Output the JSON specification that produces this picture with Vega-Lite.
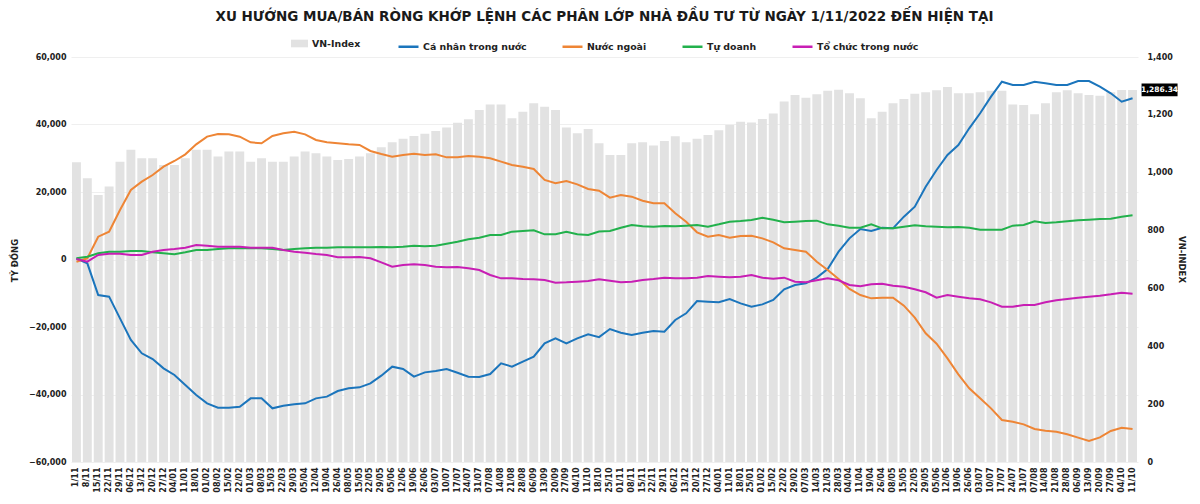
{
  "$schema": "https://vega.github.io/schema/vega-lite/v6.json",
  "width": 1067,
  "height": 405,
  "autosize": {"type": "none"},
  "padding": {"left": 71, "top": 57, "right": 62, "bottom": 42},
  "background": "white",
  "title": {
    "text": "XU HƯỚNG MUA/BÁN RÒNG KHỚP LỆNH CÁC PHÂN LỚP NHÀ ĐẦU TƯ TỪ NGÀY 1/11/2022 ĐẾN HIỆN TẠI",
    "font": "DejaVu Sans",
    "fontSize": 13.5,
    "fontWeight": "bold",
    "color": "#1a1a1a",
    "anchor": "middle",
    "frame": "group",
    "offset": 12
  },
  "data": {
    "values": [
      {"d": "2022-11-01", "vn": 1036, "cn": 300, "nn": -650, "td": 350, "tc": 150},
      {"d": "2022-11-08", "vn": 981, "cn": -1130, "nn": 350, "td": 840, "tc": -650},
      {"d": "2022-11-15", "vn": 923, "cn": -10520, "nn": 6760, "td": 1830, "tc": 1330},
      {"d": "2022-11-22", "vn": 952, "cn": -11010, "nn": 8240, "td": 2320, "tc": 1730},
      {"d": "2022-11-29", "vn": 1038, "cn": -17430, "nn": 14670, "td": 2320, "tc": 1730},
      {"d": "2022-12-06", "vn": 1079, "cn": -23850, "nn": 20590, "td": 2520, "tc": 1330},
      {"d": "2022-12-13", "vn": 1050, "cn": -27800, "nn": 23060, "td": 2520, "tc": 1330},
      {"d": "2022-12-20", "vn": 1050, "cn": -29480, "nn": 25040, "td": 2120, "tc": 2320},
      {"d": "2022-12-27", "vn": 1027, "cn": -32250, "nn": 27510, "td": 1830, "tc": 2810},
      {"d": "2023-01-04", "vn": 1027, "cn": -34220, "nn": 29190, "td": 1530, "tc": 3110},
      {"d": "2023-01-11", "vn": 1050, "cn": -37190, "nn": 31160, "td": 2120, "tc": 3510},
      {"d": "2023-01-18", "vn": 1079, "cn": -40150, "nn": 34120, "td": 2810, "tc": 4300},
      {"d": "2023-02-01", "vn": 1079, "cn": -42620, "nn": 36400, "td": 2810, "tc": 4100},
      {"d": "2023-02-08", "vn": 1056, "cn": -43900, "nn": 37190, "td": 3110, "tc": 3800},
      {"d": "2023-02-15", "vn": 1073, "cn": -43900, "nn": 37090, "td": 3310, "tc": 3800},
      {"d": "2023-02-22", "vn": 1073, "cn": -43610, "nn": 36400, "td": 3310, "tc": 3800},
      {"d": "2023-03-01", "vn": 1038, "cn": -41140, "nn": 34720, "td": 3310, "tc": 3510},
      {"d": "2023-03-08", "vn": 1050, "cn": -41140, "nn": 34420, "td": 3310, "tc": 3510},
      {"d": "2023-03-15", "vn": 1038, "cn": -44100, "nn": 36590, "td": 3110, "tc": 3510},
      {"d": "2023-03-22", "vn": 1038, "cn": -43320, "nn": 37380, "td": 2810, "tc": 2810},
      {"d": "2023-03-29", "vn": 1056, "cn": -42920, "nn": 37880, "td": 3110, "tc": 2320},
      {"d": "2023-04-05", "vn": 1073, "cn": -42620, "nn": 37090, "td": 3310, "tc": 2010},
      {"d": "2023-04-12", "vn": 1067, "cn": -41140, "nn": 35410, "td": 3510, "tc": 1630},
      {"d": "2023-04-19", "vn": 1056, "cn": -40640, "nn": 34720, "td": 3510, "tc": 1330},
      {"d": "2023-04-26", "vn": 1044, "cn": -38960, "nn": 34420, "td": 3600, "tc": 650},
      {"d": "2023-05-08", "vn": 1047, "cn": -38170, "nn": 34120, "td": 3600, "tc": 650},
      {"d": "2023-05-15", "vn": 1056, "cn": -37880, "nn": 33930, "td": 3600, "tc": 740},
      {"d": "2023-05-22", "vn": 1067, "cn": -36690, "nn": 32150, "td": 3600, "tc": 350},
      {"d": "2023-05-29", "vn": 1088, "cn": -34420, "nn": 31260, "td": 3700, "tc": -840},
      {"d": "2023-06-05", "vn": 1105, "cn": -31750, "nn": 30470, "td": 3600, "tc": -2130},
      {"d": "2023-06-12", "vn": 1117, "cn": -32440, "nn": 30960, "td": 3800, "tc": -1630},
      {"d": "2023-06-19", "vn": 1127, "cn": -34720, "nn": 31360, "td": 4100, "tc": -1430},
      {"d": "2023-06-26", "vn": 1135, "cn": -33440, "nn": 30960, "td": 3900, "tc": -1630},
      {"d": "2023-07-03", "vn": 1144, "cn": -33040, "nn": 31160, "td": 4100, "tc": -2130},
      {"d": "2023-07-10", "vn": 1156, "cn": -32440, "nn": 30270, "td": 4690, "tc": -2320},
      {"d": "2023-07-17", "vn": 1173, "cn": -33540, "nn": 30270, "td": 5280, "tc": -2220},
      {"d": "2023-07-24", "vn": 1185, "cn": -34720, "nn": 30670, "td": 5970, "tc": -2620},
      {"d": "2023-07-31", "vn": 1217, "cn": -34820, "nn": 30470, "td": 6470, "tc": -3110},
      {"d": "2023-08-07", "vn": 1236, "cn": -33930, "nn": 29980, "td": 7260, "tc": -4590},
      {"d": "2023-08-14", "vn": 1236, "cn": -30770, "nn": 28990, "td": 7260, "tc": -5580},
      {"d": "2023-08-21", "vn": 1188, "cn": -31750, "nn": 28000, "td": 8250, "tc": -5580},
      {"d": "2023-08-28", "vn": 1211, "cn": -30270, "nn": 27510, "td": 8440, "tc": -5780},
      {"d": "2023-09-06", "vn": 1240, "cn": -28790, "nn": 26820, "td": 8640, "tc": -5880},
      {"d": "2023-09-13", "vn": 1228, "cn": -24840, "nn": 23560, "td": 7460, "tc": -6070},
      {"d": "2023-09-20", "vn": 1217, "cn": -23360, "nn": 22570, "td": 7460, "tc": -6880},
      {"d": "2023-09-27", "vn": 1156, "cn": -24840, "nn": 23260, "td": 8250, "tc": -6770},
      {"d": "2023-10-04", "vn": 1136, "cn": -23360, "nn": 22270, "td": 7460, "tc": -6570},
      {"d": "2023-10-11", "vn": 1151, "cn": -22170, "nn": 20890, "td": 7260, "tc": -6370},
      {"d": "2023-10-18", "vn": 1102, "cn": -23000, "nn": 20400, "td": 8300, "tc": -5880},
      {"d": "2023-10-25", "vn": 1061, "cn": -20590, "nn": 18320, "td": 8440, "tc": -6270},
      {"d": "2023-11-01", "vn": 1061, "cn": -21680, "nn": 19110, "td": 9430, "tc": -6770},
      {"d": "2023-11-08", "vn": 1102, "cn": -22370, "nn": 18620, "td": 10220, "tc": -6570},
      {"d": "2023-11-15", "vn": 1105, "cn": -21680, "nn": 17430, "td": 9830, "tc": -6070},
      {"d": "2023-11-22", "vn": 1094, "cn": -21190, "nn": 16640, "td": 9730, "tc": -5780},
      {"d": "2023-11-29", "vn": 1110, "cn": -21380, "nn": 16640, "td": 9920, "tc": -5380},
      {"d": "2023-12-06", "vn": 1126, "cn": -17930, "nn": 13680, "td": 9830, "tc": -5580},
      {"d": "2023-12-13", "vn": 1105, "cn": -15950, "nn": 11210, "td": 10030, "tc": -5580},
      {"d": "2023-12-20", "vn": 1117, "cn": -12300, "nn": 8050, "td": 10220, "tc": -5380},
      {"d": "2023-12-27", "vn": 1130, "cn": -12490, "nn": 6760, "td": 9730, "tc": -4890},
      {"d": "2024-01-04", "vn": 1147, "cn": -12690, "nn": 7260, "td": 10420, "tc": -5090},
      {"d": "2024-01-11", "vn": 1165, "cn": -11700, "nn": 6470, "td": 11210, "tc": -5280},
      {"d": "2024-01-18", "vn": 1176, "cn": -12990, "nn": 6960, "td": 11410, "tc": -5090},
      {"d": "2024-01-25", "vn": 1174, "cn": -13980, "nn": 7060, "td": 11700, "tc": -4590},
      {"d": "2024-02-01", "vn": 1186, "cn": -13290, "nn": 6270, "td": 12390, "tc": -5380},
      {"d": "2024-02-15", "vn": 1205, "cn": -12000, "nn": 5090, "td": 11800, "tc": -5680},
      {"d": "2024-02-22", "vn": 1246, "cn": -8840, "nn": 3310, "td": 11010, "tc": -5380},
      {"d": "2024-02-29", "vn": 1269, "cn": -7560, "nn": 2810, "td": 11210, "tc": -6570},
      {"d": "2024-03-07", "vn": 1259, "cn": -7060, "nn": 2320, "td": 11410, "tc": -6770},
      {"d": "2024-03-14", "vn": 1271, "cn": -5380, "nn": -650, "td": 11510, "tc": -6170},
      {"d": "2024-03-21", "vn": 1283, "cn": -2810, "nn": -3110, "td": 10420, "tc": -5580},
      {"d": "2024-03-28", "vn": 1287, "cn": 2320, "nn": -5780, "td": 10030, "tc": -6170},
      {"d": "2024-04-04", "vn": 1275, "cn": 6270, "nn": -8740, "td": 9430, "tc": -7560},
      {"d": "2024-04-11", "vn": 1257, "cn": 9040, "nn": -10520, "td": 9430, "tc": -7950},
      {"d": "2024-04-19", "vn": 1188, "cn": 8440, "nn": -11510, "td": 10420, "tc": -7350},
      {"d": "2024-04-26", "vn": 1211, "cn": 9430, "nn": -11310, "td": 9240, "tc": -7160},
      {"d": "2024-05-08", "vn": 1240, "cn": 9240, "nn": -11310, "td": 9240, "tc": -7760},
      {"d": "2024-05-15", "vn": 1255, "cn": 12690, "nn": -13680, "td": 9730, "tc": -8050},
      {"d": "2024-05-22", "vn": 1273, "cn": 15650, "nn": -17240, "td": 10120, "tc": -8840},
      {"d": "2024-05-29", "vn": 1278, "cn": 21580, "nn": -21880, "td": 9830, "tc": -9720},
      {"d": "2024-06-05", "vn": 1285, "cn": 26520, "nn": -24940, "td": 9730, "tc": -11310},
      {"d": "2024-06-12", "vn": 1296, "cn": 30960, "nn": -29280, "td": 9530, "tc": -10520},
      {"d": "2024-06-19", "vn": 1275, "cn": 33930, "nn": -34020, "td": 9630, "tc": -11010},
      {"d": "2024-06-26", "vn": 1275, "cn": 38870, "nn": -38170, "td": 9430, "tc": -11510},
      {"d": "2024-07-03", "vn": 1278, "cn": 43320, "nn": -41140, "td": 8830, "tc": -11800},
      {"d": "2024-07-10", "vn": 1283, "cn": 48240, "nn": -44100, "td": 8830, "tc": -12690},
      {"d": "2024-07-17", "vn": 1283, "cn": 52690, "nn": -47560, "td": 8830, "tc": -13980},
      {"d": "2024-07-24", "vn": 1236, "cn": 51700, "nn": -48050, "td": 10030, "tc": -13980},
      {"d": "2024-07-31", "vn": 1234, "cn": 51700, "nn": -48840, "td": 10220, "tc": -13480},
      {"d": "2024-08-07", "vn": 1202, "cn": 52690, "nn": -50220, "td": 11310, "tc": -13480},
      {"d": "2024-08-14", "vn": 1240, "cn": 52210, "nn": -50720, "td": 10820, "tc": -12690},
      {"d": "2024-08-21", "vn": 1278, "cn": 51700, "nn": -51010, "td": 11010, "tc": -12100},
      {"d": "2024-08-28", "vn": 1285, "cn": 51700, "nn": -51800, "td": 11310, "tc": -11700},
      {"d": "2024-09-06", "vn": 1275, "cn": 52890, "nn": -52790, "td": 11610, "tc": -11310},
      {"d": "2024-09-13", "vn": 1269, "cn": 52890, "nn": -53780, "td": 11800, "tc": -11010},
      {"d": "2024-09-20", "vn": 1266, "cn": 51200, "nn": -52700, "td": 12000, "tc": -10720},
      {"d": "2024-09-27", "vn": 1278, "cn": 49250, "nn": -50810, "td": 12100, "tc": -10320},
      {"d": "2024-10-04", "vn": 1286, "cn": 46760, "nn": -49830, "td": 12690, "tc": -9830},
      {"d": "2024-10-11", "vn": 1286.34, "cn": 47760, "nn": -50220, "td": 13090, "tc": -10120}
    ]
  },
  "encoding": {
    "x": {
      "field": "d",
      "type": "nominal",
      "title": null,
      "scale": {"paddingInner": 0, "paddingOuter": 0},
      "axis": {
        "labelExpr": "(datum.value < '2022-11-10' ? slice(datum.value, 9) : slice(datum.value, 8)) + '/' + slice(datum.value, 5, 7)",
        "labelAngle": 270,
        "labelFont": "DejaVu Sans",
        "labelFontSize": 8,
        "labelFontWeight": "bold",
        "labelColor": "#222222",
        "labelPadding": 5,
        "ticks": false,
        "domain": false,
        "grid": false
      }
    }
  },
  "layer": [
    {
      "encoding": {
        "y": {
          "field": "vn",
          "type": "quantitative",
          "scale": {"domain": [0, 1400], "nice": false, "zero": true},
          "axis": {
            "orient": "right",
            "values": [0, 200, 400, 600, 800, 1000, 1200, 1400],
            "format": ",.0f",
            "labelFont": "DejaVu Sans",
            "labelFontSize": 8,
            "labelFontWeight": "bold",
            "labelColor": "#222222",
            "labelPadding": 9,
            "ticks": false,
            "domain": false,
            "grid": false,
            "title": "VN-INDEX",
            "titleFont": "DejaVu Sans",
            "titleFontSize": 8.5,
            "titleFontWeight": "bold",
            "titleColor": "#222222",
            "titleAngle": 90,
            "titleX": 43,
            "titleY": 202,
            "titleAlign": "center",
            "titleBaseline": "middle"
          }
        }
      },
      "layer": [
        {
          "mark": {"type": "bar", "width": {"band": 0.82}},
          "encoding": {
            "fill": {
              "datum": "VN-Index",
              "scale": {"range": ["#e2e2e2"]},
              "legend": {
                "orient": "none",
                "legendX": 220,
                "legendY": -22,
                "title": null,
                "padding": 0,
                "symbolType": "M-1,-0.45H1V0.45H-1Z",
                "symbolSize": 289,
                "symbolStrokeWidth": 0,
                "symbolFillColor": "#d6d6d6",
                "labelFont": "DejaVu Sans",
                "labelFontSize": 9.4,
                "labelFontWeight": "bold",
                "labelColor": "#222222",
                "labelOffset": 4
              }
            }
          }
        },
        {
          "transform": [{"filter": "datum.d == '2024-10-11'"}],
          "mark": {
            "type": "point",
            "shape": "M-1,-0.36H1V0.36H-1Z",
            "size": 1296,
            "filled": true,
            "color": "#000000",
            "opacity": 1,
            "xOffset": 27
          }
        },
        {
          "transform": [{"filter": "datum.d == '2024-10-11'"}],
          "mark": {
            "type": "text",
            "font": "DejaVu Sans",
            "fontSize": 7.5,
            "fontWeight": "bold",
            "color": "#ffffff",
            "align": "center",
            "baseline": "middle",
            "xOffset": 27
          },
          "encoding": {"text": {"field": "vn", "type": "quantitative", "format": ",.2f"}}
        }
      ]
    },
    {
      "transform": [{"fold": ["cn", "nn", "td", "tc"], "as": ["s", "v"]}],
      "mark": {"type": "line", "strokeWidth": 2},
      "encoding": {
        "y": {
          "field": "v",
          "type": "quantitative",
          "scale": {"domain": [-60000, 60000], "nice": false},
          "axis": {
            "orient": "left",
            "values": [-60000, -40000, -20000, 0, 20000, 40000, 60000],
            "format": ",.0f",
            "labelFont": "DejaVu Sans",
            "labelFontSize": 8,
            "labelFontWeight": "bold",
            "labelColor": "#222222",
            "labelPadding": 5,
            "ticks": false,
            "domain": false,
            "grid": true,
            "gridColor": "#efefef",
            "title": "TỶ ĐỒNG",
            "titleFont": "DejaVu Sans",
            "titleFontSize": 8.5,
            "titleFontWeight": "bold",
            "titleColor": "#222222",
            "titleAngle": 270,
            "titleX": -57,
            "titleY": 203,
            "titleAlign": "center",
            "titleBaseline": "middle"
          }
        },
        "color": {
          "field": "s",
          "type": "nominal",
          "scale": {"domain": ["cn", "nn", "td", "tc"], "range": ["#1b75bc", "#ee8535", "#22b14c", "#c81eb4"]},
          "legend": {
            "orient": "none",
            "direction": "horizontal",
            "legendX": 326,
            "legendY": -22,
            "title": null,
            "padding": 0,
            "symbolType": "stroke",
            "symbolSize": 400,
            "symbolStrokeWidth": 2.5,
            "columnPadding": 30,
            "labelFont": "DejaVu Sans",
            "labelFontSize": 9.4,
            "labelFontWeight": "bold",
            "labelColor": "#222222",
            "labelOffset": 3,
            "labelExpr": "datum.value == 'cn' ? 'Cá nhân trong nước' : datum.value == 'nn' ? 'Nước ngoài' : datum.value == 'td' ? 'Tự doanh' : 'Tổ chức trong nước'"
          }
        }
      }
    }
  ],
  "resolve": {"scale": {"y": "independent"}},
  "config": {
    "view": {"stroke": null},
    "font": "DejaVu Sans"
  }
}
